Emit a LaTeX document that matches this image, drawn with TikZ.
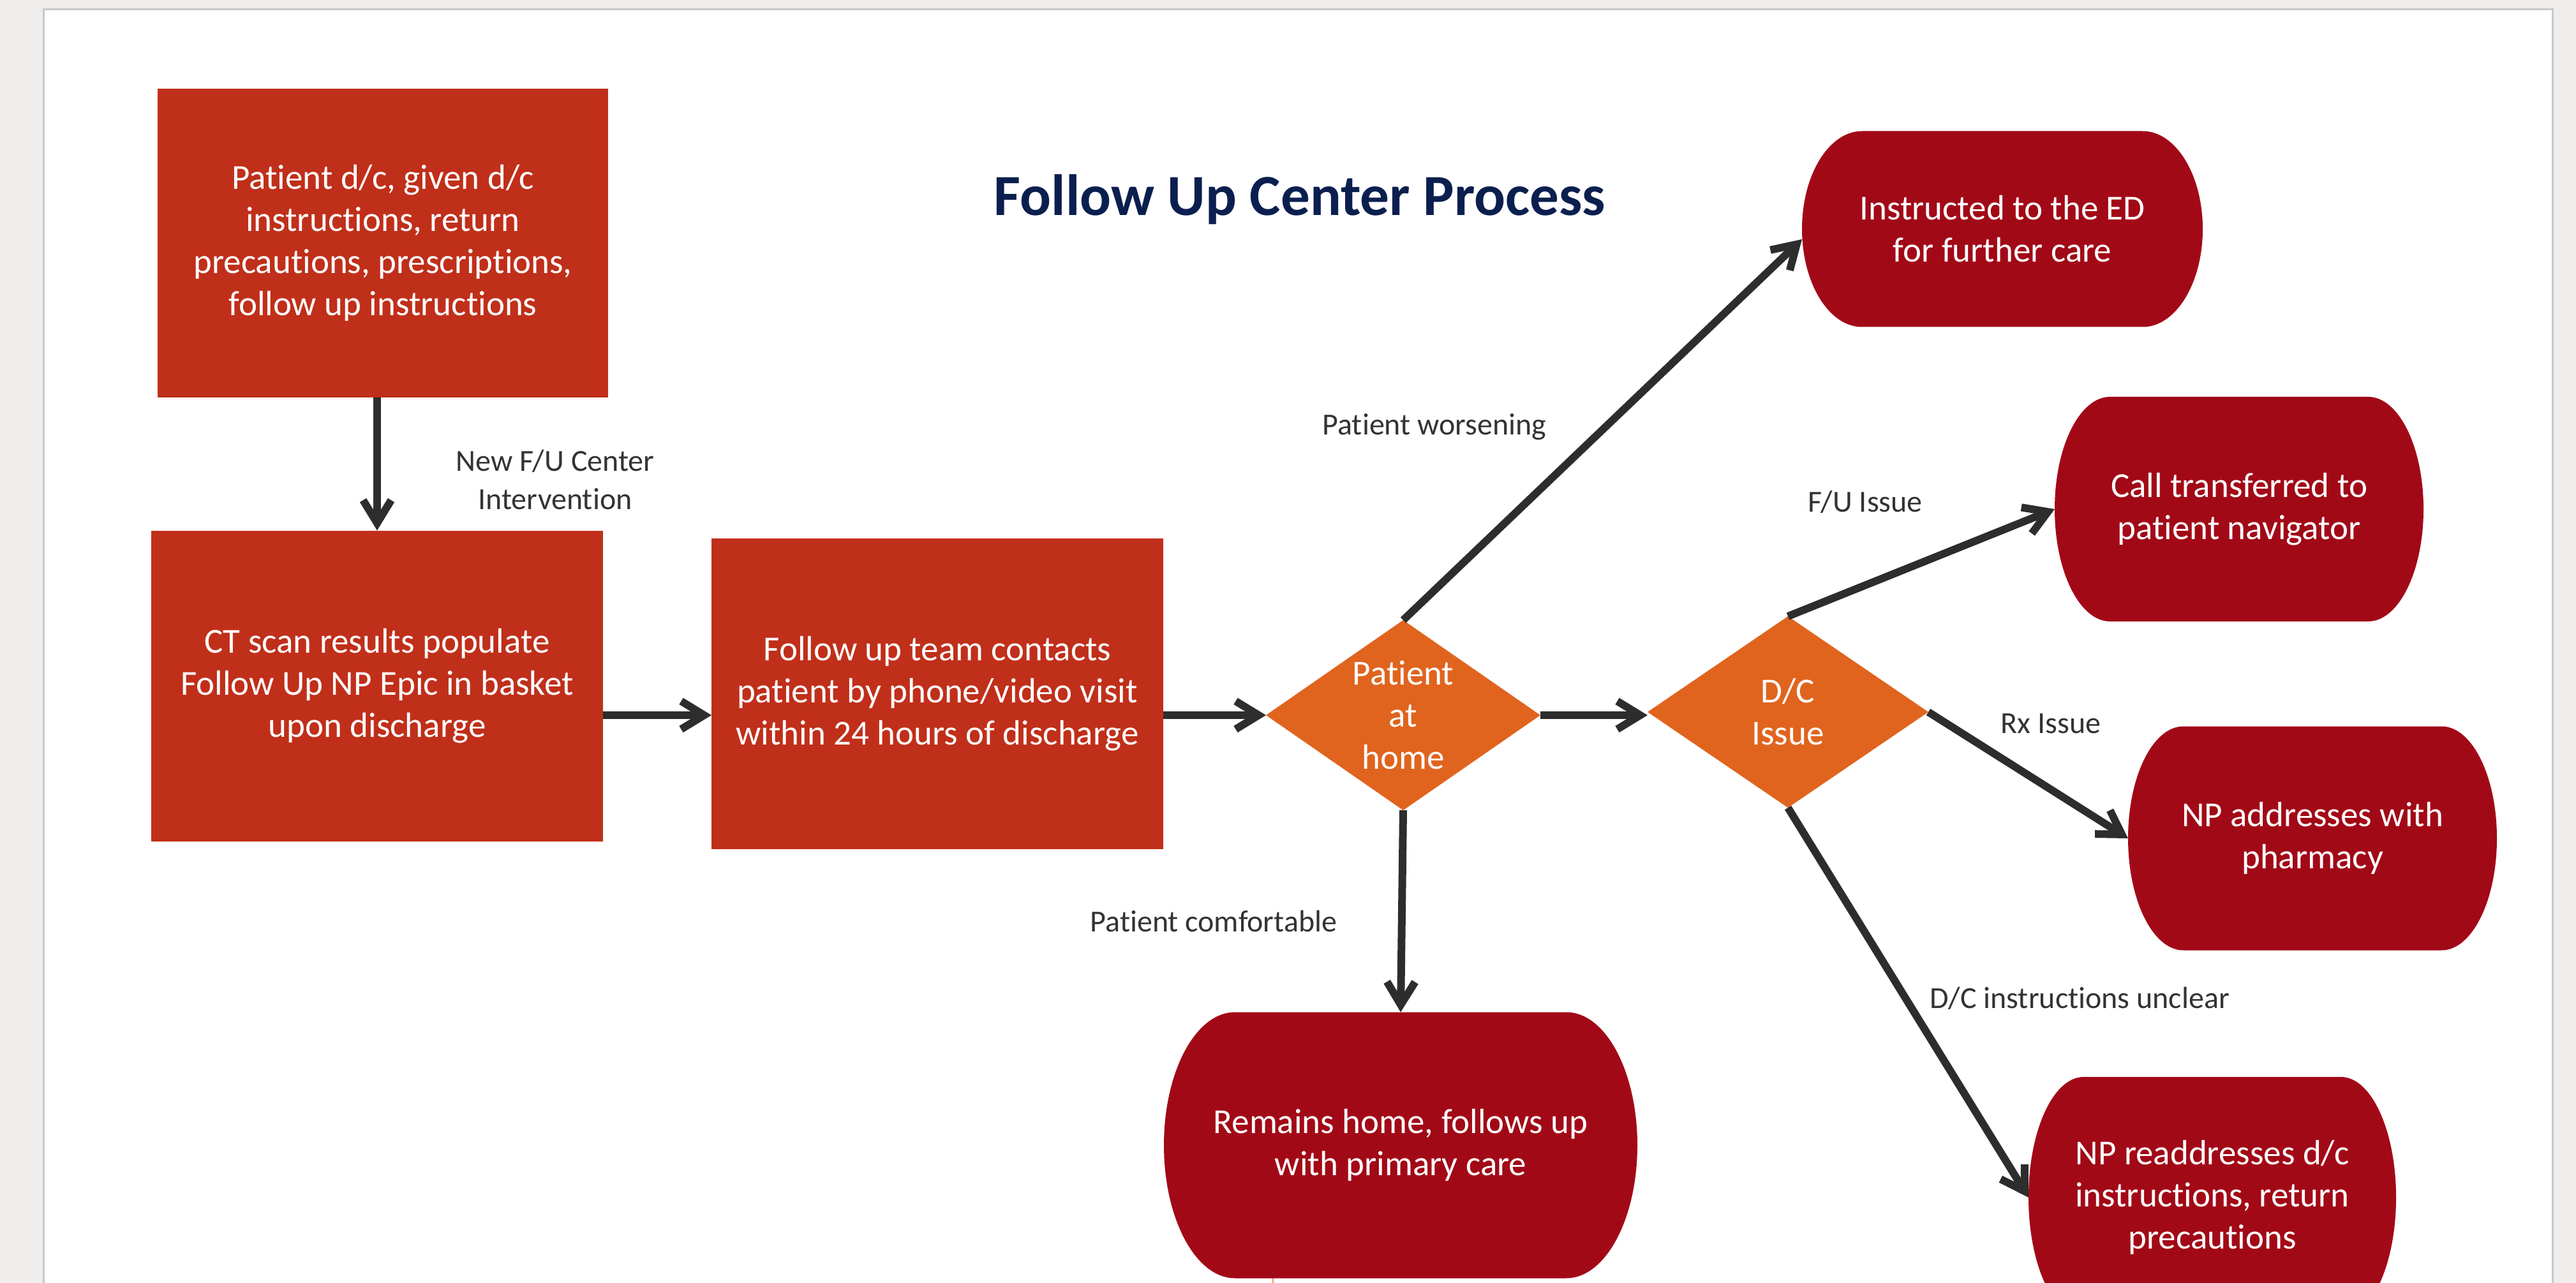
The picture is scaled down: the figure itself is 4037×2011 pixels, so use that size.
\documentclass[tikz,border=0pt]{standalone}
\usepackage{fontspec}
\setmainfont{Carlito}[Ligatures=NoCommon]
\usetikzlibrary{shapes.geometric, arrows.meta, calc}
\definecolor{procred}{RGB}{192,47,26}
\definecolor{decorange}{RGB}{224,100,30}
\definecolor{termred}{RGB}{162,9,23}
\definecolor{arrowgray}{RGB}{45,45,45}
\definecolor{labelgray}{RGB}{51,51,51}
\definecolor{titlenavy}{RGB}{11,31,79}
\definecolor{bggray}{RGB}{239,238,236}
\definecolor{framegray}{RGB}{200,200,200}
\definecolor{markorange}{RGB}{240,150,100}

% elliptical-sided terminal shape: centre x, centre y, width, height (px units)
\newcommand{\termfill}[4]{%
  \fill[termred] ({#1-#3/2+0.15*#3},{#2-#4/2}) -- ({#1+#3/2-0.15*#3},{#2-#4/2})
    arc[start angle=-90,end angle=90,x radius={0.15*#3},y radius={#4/2}]
    -- ({#1-#3/2+0.15*#3},{#2+#4/2})
    arc[start angle=90,end angle=270,x radius={0.15*#3},y radius={#4/2}] -- cycle;}

\tikzset{
  nodetext/.style={text=white, align=center, font=\fontsize{13.75pt}{16.5pt}\selectfont},
  procbox/.style={nodetext, fill=procred, inner sep=0pt, outer sep=0pt},
  decbox/.style={diamond, fill=decorange, inner sep=0pt, outer sep=0pt},
  termbox/.style={nodetext, rectangle, inner sep=0pt, outer sep=0pt},
  edgelabel/.style={text=labelgray, align=center, inner sep=0pt, font=\fontsize{12pt}{15pt}\selectfont},
  arr/.style={draw=arrowgray, line width=3pt, -{Straight Barb[length=9pt,width=11pt]}},
}

\begin{document}
\begin{tikzpicture}[x=0.25pt, y=-0.25pt]
\useasboundingbox (0,0) rectangle (4037,2011);
\clip (0,0) rectangle (4037,2011);
% window background and page
\fill[bggray] (0,0) rectangle (4037,2011);
\fill[white] (69,15) rectangle (4000,2030);
\draw[framegray, line width=0.75pt] (68.5,2030) -- (68.5,14.5) -- (4000.5,14.5) -- (4000.5,2030);
\draw[markorange, line width=0.6pt] (1995,1985) -- (1995,2011);

% title
\node[text=titlenavy, font=\bfseries\fontsize{22.8pt}{26pt}\selectfont, anchor=base, inner sep=0pt] (title) at (2037,338) {Follow Up Center Process};

% process boxes
\node[procbox, minimum width=176.5pt, minimum height=121pt] (box1) at (600,381)
  {Patient d/c, given d/c\\instructions, return\\precautions, prescriptions,\\follow up instructions};
\node[procbox, minimum width=177pt, minimum height=121.75pt] (box2) at (591,1075)
  {CT scan results populate\\Follow Up NP Epic in basket\\upon discharge};
\node[procbox, minimum width=177pt, minimum height=121.75pt] (box3) at (1469,1087)
  {Follow up team contacts\\patient by phone/video visit\\within 24 hours of discharge};

% decisions
\node[decbox, minimum width=107.5pt, minimum height=74.5pt,
  label={[nodetext]center:{Patient\\at\\home}}] (d1) at (2199,1121) {};
\node[decbox, minimum width=110pt, minimum height=75pt,
  label={[nodetext]center:{D/C\\Issue}}] (d2) at (2802,1116) {};

% terminals
\termfill{3138}{359}{628}{307}
\node[termbox, minimum width=157pt, minimum height=76.75pt] (t1) at (3138,359)
  {Instructed to the ED\\for further care};
\termfill{3509}{798}{578}{352}
\node[termbox, minimum width=144.5pt, minimum height=88pt] (t2) at (3509,798)
  {Call transferred to\\patient navigator};
\termfill{3624}{1314}{578}{351}
\node[termbox, minimum width=144.5pt, minimum height=87.75pt] (t3) at (3624,1314)
  {NP addresses with\\pharmacy};
\termfill{3467}{1877}{576}{378}
\node[termbox, minimum width=144pt, minimum height=94.5pt] (t4) at (3467,1877)
  {NP readdresses d/c\\instructions, return\\precautions};
\termfill{2195}{1795}{742}{417}
\node[termbox, minimum width=185.5pt, minimum height=104.25pt] (t5) at (2195,1795)
  {Remains home, follows up\\with primary care};

% edge labels
\node[edgelabel] (lnew) at (870,752) {New F/U Center\\Intervention};
\node[edgelabel, anchor=base] (lworse) at (2248,682) {Patient worsening};
\node[edgelabel, anchor=base] (lfu) at (2923,802) {F/U Issue};
\node[edgelabel, anchor=base] (lrx) at (3214,1149) {Rx Issue};
\node[edgelabel, anchor=base] (lcomf) at (1902,1460) {Patient comfortable};
\node[edgelabel, anchor=base] (lunclear) at (3259,1580) {D/C instructions unclear};

% connectors
\draw[arr] (box1.south -| box2.north) -- (box2.north);
\draw[arr] (box2.east |- d1.west) -- (box3.west |- d1.west);
\draw[arr] (box3.east |- d1.west) -- (d1.west);
\draw[arr] (d1.east) -- (d1.east -| d2.west);
\draw[arr] (d1.north) -- ([yshift=-4pt]t1.west);
\draw[arr] (d1.south) -- (t5.north);
\draw[arr] (d2.north) -- (t2.west);
\draw[arr] (d2.east) -- (t3.west);
\draw[arr] (d2.south) -- (t4.west);
\end{tikzpicture}
\end{document}
